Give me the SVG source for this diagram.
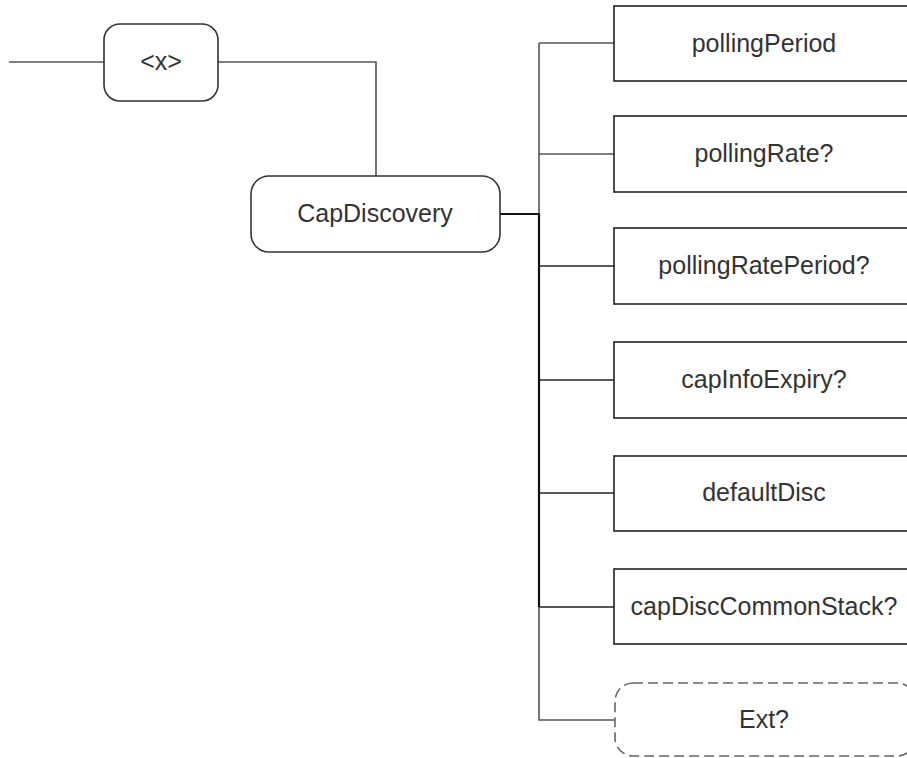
<svg xmlns="http://www.w3.org/2000/svg" width="907" height="758" viewBox="0 0 907 758">
<style>
.box{fill:#fff;stroke:#222;stroke-width:1.6}
.opt{fill:#fff;stroke:#666;stroke-width:1.6;stroke-dasharray:10 5}
.lbl{font-family:"Liberation Sans",Arial,sans-serif;font-size:25px;fill:#333;text-anchor:middle;dominant-baseline:central}
.c{fill:none;stroke:#555;stroke-width:1.6}
.k{fill:none;stroke:#111;stroke-width:2.2}
.k2{fill:none;stroke:#222;stroke-width:1.6}
</style>
<rect width="907" height="758" fill="#fff"/>
<g id="connectors">
<path class="c" d="M9,62 H104"/>
<path class="c" d="M218,62 H376 V176"/>
<path class="c" d="M539,43 V214"/>
<path class="c" d="M539,607 V720 H615"/>
<path class="c" d="M539,43 H614"/>
<path class="c" d="M539,154 H614"/>
<path class="k2" d="M539,266 H614"/>
<path class="k2" d="M539,380 H614"/>
<path class="k2" d="M539,493 H614"/>
<path class="k2" d="M539,607 H614"/>
<path class="k" d="M500,214 H539 V607"/>
</g>
<g id="x">
<rect class="box" x="104" y="24" width="114" height="77" rx="16" style="stroke:#333"/>
<text class="lbl" x="161" y="61">&lt;x&gt;</text>
</g>
<g id="capDiscovery">
<rect class="box" x="251" y="176" width="249" height="76" rx="18" style="stroke:#333"/>
<text class="lbl" x="375" y="213">CapDiscovery</text>
</g>
<g id="pollingPeriod">
<rect class="box" x="614" y="6" width="300" height="75"/>
<text class="lbl" x="764" y="43">pollingPeriod</text>
</g>
<g id="pollingRate">
<rect class="box" x="614" y="116" width="300" height="76"/>
<text class="lbl" x="764" y="153">pollingRate?</text>
</g>
<g id="pollingRatePeriod">
<rect class="box" x="614" y="228" width="300" height="76"/>
<text class="lbl" x="764" y="265">pollingRatePeriod?</text>
</g>
<g id="capInfoExpiry">
<rect class="box" x="614" y="342" width="300" height="76"/>
<text class="lbl" x="764" y="379">capInfoExpiry?</text>
</g>
<g id="defaultDisc">
<rect class="box" x="614" y="456" width="300" height="75"/>
<text class="lbl" x="764" y="492">defaultDisc</text>
</g>
<g id="capDiscCommonStack">
<rect class="box" x="614" y="569" width="300" height="75"/>
<text class="lbl" x="764" y="606">capDiscCommonStack?</text>
</g>
<g id="ext">
<rect class="opt" x="615" y="683" width="300" height="73" rx="18"/>
<text class="lbl" x="764" y="719">Ext?</text>
</g>
</svg>
